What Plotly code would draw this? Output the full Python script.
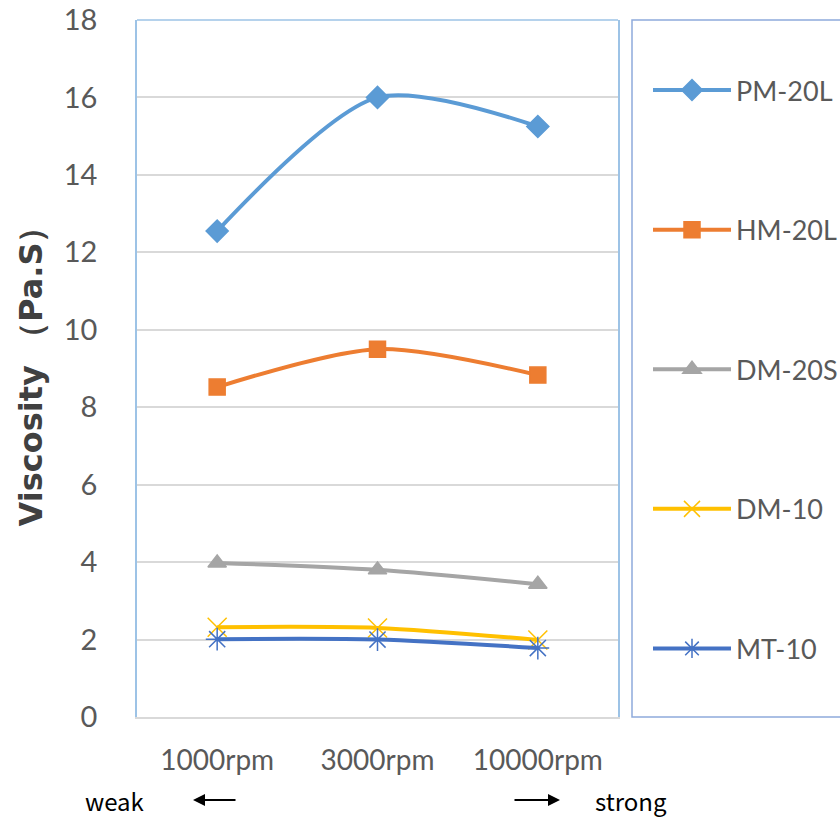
import plotly.graph_objects as go

categories = ["1000rpm", "3000rpm", "10000rpm"]
series_names = ["PM-20L", "HM-20L", "DM-20S", "DM-10", "MT-10"]
pm_20l = [12.55, 16.0, 15.25]
hm_20l = [8.52, 9.5, 8.83]
dm_20s = [3.98, 3.8, 3.43]
dm_10 = [2.32, 2.3, 1.99]
mt_10 = [2.01, 2.0, 1.78]
y_ticks = [0, 2, 4, 6, 8, 10, 12, 14, 16, 18]

values = [pm_20l, hm_20l, dm_20s, dm_10, mt_10]
colors = ["#5B9BD5", "#ED7D31", "#A5A5A5", "#FFC000", "#4472C4"]
symbols = ["diamond", "square", "triangle-up", "x-thin-open", "asterisk-open"]
msizes = [17, 16, 16, 19, 19]

fig = go.Figure()
for i, (name, vals) in enumerate(zip(series_names, values)):
    fig.add_trace(go.Scatter(
        x=categories, y=vals, name=name, mode="lines+markers",
        line=dict(color=colors[i], width=4, shape="spline", smoothing=0.8),
        marker=dict(symbol=symbols[i], size=msizes[i], color=colors[i],
                    line=dict(color=colors[i], width=1.5)),
        legendgroup=name,
    ))

W, H = 840, 817
L, R, T, B = 137, 222, 20, 100

def px_x(px):
    return (px - L) / (W - L - R)

def px_y(py):
    return 1 - (py - T) / (H - T - B)

fig.update_layout(
    width=W, height=H,
    margin=dict(l=L, r=R, t=T, b=B, autoexpand=False),
    paper_bgcolor="white", plot_bgcolor="white",
    font=dict(family="Lato, Open Sans, sans-serif", color="#595959"),
    showlegend=True,
    legend=dict(
        x=px_x(648), xanchor="left",
        y=px_y(66), yanchor="top",
        font=dict(size=27, color="#595959"),
        tracegroupgap=101.5,
        bgcolor="rgba(0,0,0,0)", borderwidth=0,
        itemwidth=78,
    ),
    xaxis=dict(
        type="category", categoryorder="array", categoryarray=categories,
        range=[-0.5, 2.5], showgrid=False, showline=True, automargin=False,
        linecolor="#D9D9D9", linewidth=1.5, ticks="",
        tickfont=dict(size=28, color="#595959"), ticklabelstandoff=18,
    ),
    yaxis=dict(
        range=[0, 18], tickvals=y_ticks, showgrid=True, automargin=False,
        gridcolor="#D9D9D9", gridwidth=1.5, showline=True, linecolor="#9DC3E6",
        linewidth=1.5, mirror=True, ticks="", zeroline=False,
        tickfont=dict(size=29, color="#595959"), ticklabelstandoff=32,
        title=dict(text="<b>Viscosity （Pa.S）</b>", standoff=12,
                   font=dict(size=32, color="#404040", family="DejaVu Sans, sans-serif")),
    ),
)

# top border of plot area
fig.add_shape(type="line", xref="paper", yref="paper", x0=0, x1=1, y0=1, y1=1,
              line=dict(color="#9DC3E6", width=1.5))
# legend box
fig.add_shape(type="rect", xref="paper", yref="paper",
              x0=px_x(632), x1=px_x(W + 5),
              y0=0, y1=1, line=dict(color="#8FAADC", width=1.5))

# weak / strong annotations
fig.add_annotation(x=px_x(83), y=px_y(800), xref="paper", yref="paper", text="weak",
                   showarrow=False, xanchor="left", yanchor="middle",
                   font=dict(size=24, color="black", family="Noto Sans CJK JP"))
fig.add_annotation(x=px_x(593), y=px_y(800), xref="paper", yref="paper", text="strong",
                   showarrow=False, xanchor="left", yanchor="middle",
                   font=dict(size=24, color="black", family="Noto Sans CJK JP"))
fig.add_annotation(x=px_x(193), y=px_y(800), xref="paper", yref="paper", text="",
                   showarrow=True, ax=44, ay=0, arrowhead=2, arrowsize=1.2,
                   arrowwidth=2, arrowcolor="black")
fig.add_annotation(x=px_x(560), y=px_y(800), xref="paper", yref="paper", text="",
                   showarrow=True, ax=-47, ay=0, arrowhead=2, arrowsize=1.2,
                   arrowwidth=2, arrowcolor="black")

fig.write_html("out.html")
